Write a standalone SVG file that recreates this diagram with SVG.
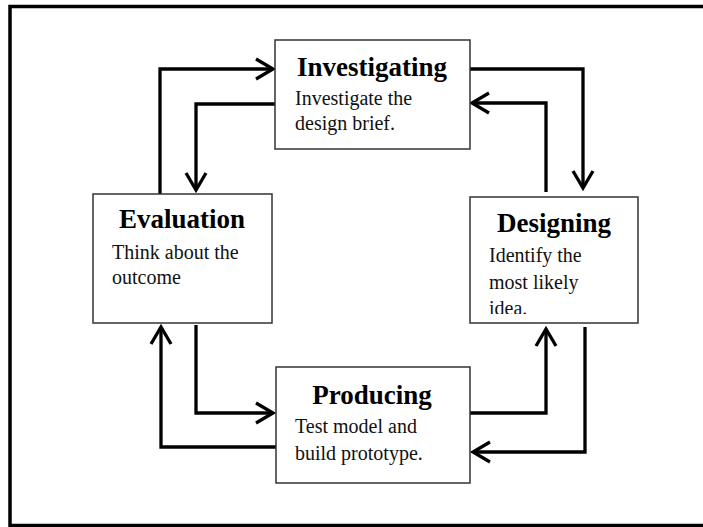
<svg xmlns="http://www.w3.org/2000/svg" width="703" height="527" viewBox="0 0 703 527">
  <style>
    .frame { fill: none; stroke: #000; stroke-width: 3.5; }
    .box { fill: #fff; stroke: #333; stroke-width: 1.5; }
    .title { font-family: "Liberation Serif", "Times New Roman", serif; font-weight: bold; font-size: 27px; fill: #000; text-anchor: middle; }
    .body { font-family: "Liberation Serif", "Times New Roman", serif; font-size: 20px; fill: #111; }
    .conn { fill: none; stroke: #000; stroke-width: 3.3; stroke-linejoin: miter; }
  </style>
  <defs>
    <marker id="arrow" markerUnits="userSpaceOnUse" viewBox="-20 -12 22 24" refX="0" refY="0" markerWidth="22" markerHeight="24" orient="auto" overflow="visible">
      <path d="M-17,-10 L0,0 L-17,10" fill="none" stroke="#000" stroke-width="3.3" stroke-linejoin="miter"/>
    </marker>
    <clipPath id="clipDesign">
      <rect x="470" y="197" width="168" height="117"/>
    </clipPath>
  </defs>
  <rect width="703" height="527" fill="#fff"/>
  <rect class="frame" x="10" y="6.5" width="710" height="519"/>

  <g id="connectors">
    <path class="conn" d="M160,194 V69 H273" marker-end="url(#arrow)"/>
    <path class="conn" d="M275,104 H196 V190" marker-end="url(#arrow)"/>
    <path class="conn" d="M470,69 H583 V188" marker-end="url(#arrow)"/>
    <path class="conn" d="M546,192 V103 H472" marker-end="url(#arrow)"/>
    <path class="conn" d="M585,327 V452 H473" marker-end="url(#arrow)"/>
    <path class="conn" d="M469,413 H546 V329" marker-end="url(#arrow)"/>
    <path class="conn" d="M196,325 V413 H273" marker-end="url(#arrow)"/>
    <path class="conn" d="M276,447 H161 V327" marker-end="url(#arrow)"/>
  </g>

  <g id="investigating">
    <rect class="box" x="275" y="40" width="195" height="109"/>
    <text class="title" x="372" y="76">Investigating</text>
    <text class="body" x="295" y="105">Investigate the</text>
    <text class="body" x="295" y="130">design brief.</text>
  </g>

  <g id="evaluation">
    <rect class="box" x="93" y="194" width="179" height="129"/>
    <text class="title" x="182" y="228">Evaluation</text>
    <text class="body" x="112" y="259">Think about the</text>
    <text class="body" x="112" y="284">outcome</text>
  </g>

  <g id="designing">
    <rect class="box" x="470" y="197" width="168" height="126"/>
    <text class="title" x="554" y="232">Designing</text>
    <g clip-path="url(#clipDesign)">
      <text class="body" x="489" y="262">Identify the</text>
      <text class="body" x="489" y="289">most likely</text>
      <text class="body" x="489" y="315">idea.</text>
    </g>
  </g>

  <g id="producing">
    <rect class="box" x="276" y="367" width="194" height="116"/>
    <text class="title" x="372" y="404">Producing</text>
    <text class="body" x="295" y="433">Test model and</text>
    <text class="body" x="295" y="460">build prototype.</text>
  </g>
</svg>
